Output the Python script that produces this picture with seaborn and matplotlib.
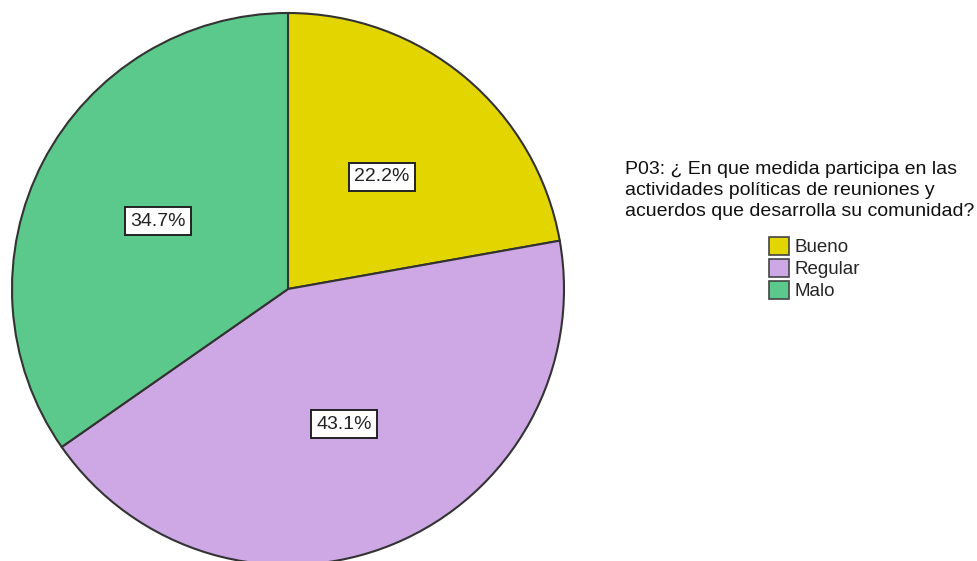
import matplotlib
matplotlib.use("Agg")
import matplotlib.pyplot as plt
import seaborn as sns
from matplotlib.patches import Patch

categories = ["Bueno", "Regular", "Malo"]
values = [22.2, 43.1, 34.7]
colors = ["#E2D500", "#CDA8E4", "#5CC98C"]
legend_title = "P03: ¿ En que medida participa en las\nactividades políticas de reuniones y\nacuerdos que desarrolla su comunidad?"

sns.set_theme(style="white")
plt.rcParams['font.family'] = ['Liberation Sans', 'DejaVu Sans']

W, H = 978, 561
fig = plt.figure(figsize=(W / 100, H / 100), dpi=100)
cx, cy, R = 288, 289, 276
ax = fig.add_axes([(cx - R) / W, (H - cy - R) / H, 2 * R / W, 2 * R / H])

wedges, texts, autotexts = ax.pie(
    values, colors=colors, startangle=90, counterclock=False,
    autopct=lambda p: f"{p:.1f}%", pctdistance=0.53, radius=1,
    wedgeprops=dict(edgecolor="#333333", linewidth=1.5),
    textprops=dict(fontsize=14, color="#222222"))
for t in autotexts:
    t.set_bbox(dict(boxstyle="square,pad=0.28", facecolor="white", edgecolor="#222222", linewidth=1.4))
ax.set_xlim(-1, 1)
ax.set_ylim(-1, 1)
ax.set_aspect('equal')
for w in wedges:
    w.set_clip_on(False)

fig.text(625 / W, 1 - 161 / H, legend_title, ha="left", va="top",
         fontsize=14, color="#111111", linespacing=1.3)

handles = [Patch(facecolor=c, edgecolor="#444444", linewidth=1.2) for c in colors]
leg = fig.legend(handles, categories, loc="upper left",
                 bbox_to_anchor=(769 / W, 1 - 237 / H), frameon=False,
                 fontsize=13.5, handlelength=1.05, handleheight=1.1,
                 handletextpad=0.3, labelspacing=0.13, borderpad=0, borderaxespad=0)

fig.savefig("out.png", dpi=100, facecolor="white")
